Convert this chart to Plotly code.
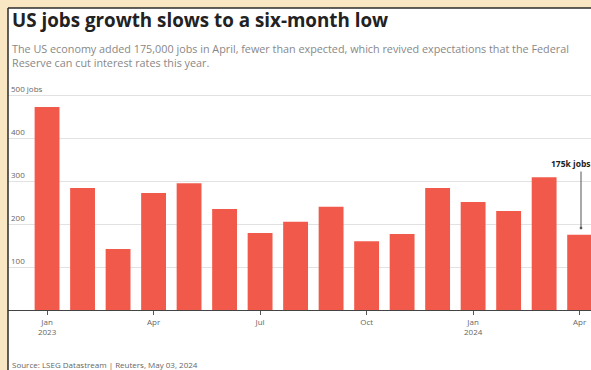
import plotly.graph_objects as go

months = ["Jan 2023", "Feb 2023", "Mar 2023", "Apr 2023", "May 2023", "Jun 2023",
          "Jul 2023", "Aug 2023", "Sep 2023", "Oct 2023", "Nov 2023", "Dec 2023",
          "Jan 2024", "Feb 2024", "Mar 2024", "Apr 2024"]
jobs_k = [472, 284, 142, 272, 295, 235, 179, 205, 240, 160, 177, 284, 251, 230, 309, 175]

tick_months = ["Jan 2023", "Apr 2023", "Jul 2023", "Oct 2023", "Jan 2024", "Apr 2024"]
tick_labels = ["Jan<br>2023", "Apr", "Jul", "Oct", "Jan<br>2024", "Apr"]
y_ticks = [100, 200, 300, 400, 500]
y_tick_labels = ["100", "200", "300", "400", "500 jobs"]

W, H = 591, 370
L, R, T, B = 8, 0, 80, 60
ph = H - T - B
pw = W - L - R
px_per_100 = 43.0
y_max = 100 * ph / px_per_100
BEIGE = "#f8e7c2"

def px_x(x):
    return (x - L) / pw

def px_y(y):
    return (H - B - y) / ph

fig = go.Figure()
fig.add_trace(go.Bar(x=months, y=jobs_k, marker=dict(color="#f15a4b", line=dict(width=0)),
                     hoverinfo="x+y"))

fig.update_layout(
    width=W, height=H,
    margin=dict(l=L, r=R, t=T, b=B),
    paper_bgcolor="white",
    plot_bgcolor="rgba(0,0,0,0)",
    bargap=0.3,
    showlegend=False,
    font=dict(family="Open Sans", color="#555"),
    xaxis=dict(
        type="category",
        range=[-1.10, 15.32],
        tickmode="array", tickvals=tick_months, ticktext=tick_labels,
        ticks="outside", ticklen=4, tickcolor="#555",
        showline=True, linecolor="#444", linewidth=1,
        showgrid=False, tickfont=dict(size=8, color="#666"),
        fixedrange=True,
    ),
    yaxis=dict(
        range=[0, y_max],
        tickmode="array", tickvals=y_ticks, ticktext=y_tick_labels,
        ticklabelposition="inside top",
        showgrid=True, gridcolor="#e2e2e2", gridwidth=1,
        zeroline=False, showline=False,
        tickfont=dict(size=8, color="#666"),
        fixedrange=True,
    ),
)

# beige outer frame bands (top and left) with dark border lines
fig.add_shape(type="rect", xref="paper", yref="paper",
              x0=px_x(-5), x1=px_x(W + 5), y0=px_y(8), y1=px_y(-5),
              fillcolor=BEIGE, line=dict(width=0), layer="below")
fig.add_shape(type="rect", xref="paper", yref="paper",
              x0=px_x(-5), x1=px_x(8), y0=px_y(H + 5), y1=px_y(-5),
              fillcolor=BEIGE, line=dict(width=0), layer="below")
fig.add_shape(type="line", xref="paper", yref="paper",
              x0=px_x(8), x1=px_x(W + 5), y0=px_y(8), y1=px_y(8),
              line=dict(color="#2b2b2b", width=1.5))
fig.add_shape(type="line", xref="paper", yref="paper",
              x0=px_x(8), x1=px_x(8), y0=px_y(8), y1=px_y(H + 5),
              line=dict(color="#2b2b2b", width=1.5))

fig.add_annotation(text="<b>US jobs growth slows to a six-month low</b>",
                   xref="paper", yref="paper", x=px_x(10), y=px_y(20),
                   xanchor="left", yanchor="middle", showarrow=False,
                   font=dict(size=18.8, color="#222", family="Open Sans"))
fig.add_annotation(text="The US economy added 175,000 jobs in April, fewer than expected, which revived expectations that the Federal<br>Reserve can cut interest rates this year.",
                   xref="paper", yref="paper", x=px_x(10), y=px_y(39),
                   xanchor="left", yanchor="top", showarrow=False, align="left",
                   font=dict(size=10.8, color="#888", family="Open Sans"))
fig.add_annotation(text="Source: LSEG Datastream | Reuters, May 03, 2024",
                   xref="paper", yref="paper", x=px_x(10), y=px_y(364),
                   xanchor="left", yanchor="middle", showarrow=False,
                   font=dict(size=8, color="#666", family="Open Sans"))

# callout for latest month
fig.add_annotation(text="<b>175k jobs</b>", xref="paper", yref="paper",
                   x=px_x(549), y=px_y(163),
                   showarrow=False, xanchor="left", yanchor="middle",
                   font=dict(size=8.5, color="#222"))
fig.add_annotation(text="", xref="paper", yref="paper",
                   x=px_x(581), y=px_y(228), ax=0, ay=-58,
                   showarrow=True, arrowhead=7, arrowsize=0.6, arrowwidth=1,
                   arrowcolor="#555", standoff=0)

fig.write_html("out.html", config={"displayModeBar": False})

# remove the browser's default page margin so the figure sits at the window origin
with open("out.html", "r", encoding="utf-8") as f:
    html = f.read()
html = html.replace("<head>", "<head><style>html,body{margin:0;padding:0;background:#ffffff;overflow:hidden;}</style>", 1)
with open("out.html", "w", encoding="utf-8") as f:
    f.write(html)
